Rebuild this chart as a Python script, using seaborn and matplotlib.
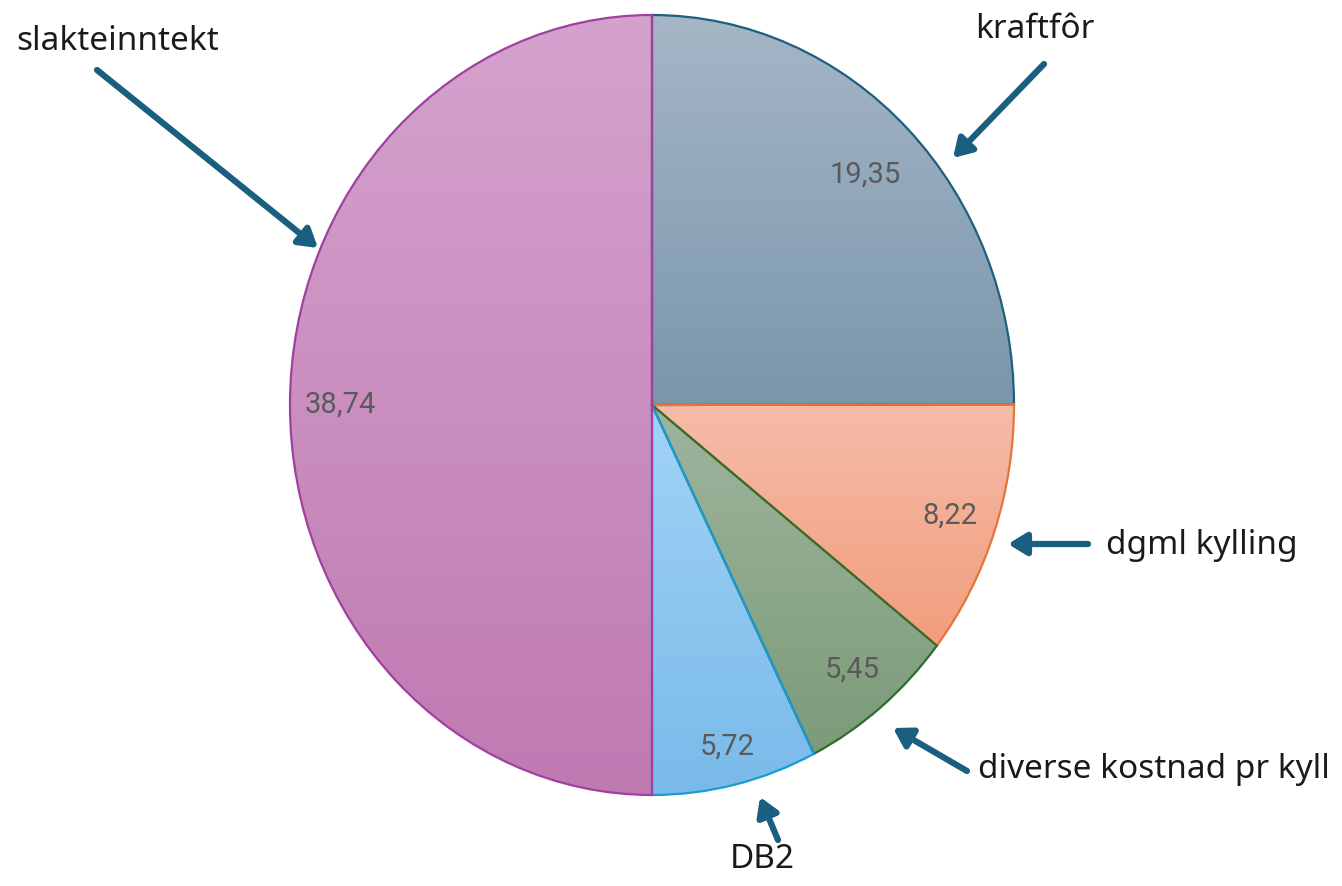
import numpy as np
import matplotlib.pyplot as plt
import seaborn as sns

# data
categories = ['kraftfôr', 'dgml kylling', 'diverse kostnad pr kyll', 'DB2', 'slakteinntekt']
values = [19.35, 8.22, 5.45, 5.72, 38.74]
# gradient colours (top, bottom) and edge colour per slice
grad_top = ['#a5b6c6', '#f5bca9', '#9fb59e', '#a2d3f5', '#d5a2cd']
grad_bottom = ['#7a96ac', '#f29d7c', '#7b9b79', '#79baea', '#bf7ab2']
edge_cols = ['#1d5f80', '#e8733a', '#2e6e2a', '#1a9ad6', '#a040a0']

sns.set_theme(style='white')
plt.rcParams['font.family'] = ['Roboto', 'DejaVu Sans']

fig = plt.figure(figsize=(13.42, 8.86), dpi=100)
ax = fig.add_axes([0, 0, 1, 1])

# pixel -> data helpers (pie centre at 652,405, radii 362 x 390 px)
def px(x):
    return (x - 652) / 362

def py(y):
    return (405 - y) / 390

wedges, _ = ax.pie(values, startangle=90, counterclock=False, radius=1,
                   wedgeprops=dict(linewidth=1.6))

for w, top, bot, ec in zip(wedges, grad_top, grad_bottom, edge_cols):
    w.set_edgecolor(ec)
    w.set_facecolor('none')
    w.set_zorder(3)
    verts = w.get_path().vertices
    y0, y1 = verts[:, 1].min(), verts[:, 1].max()
    x0, x1 = verts[:, 0].min(), verts[:, 0].max()
    cmap = sns.blend_palette([top, bot], n_colors=256, as_cmap=True)
    grad = np.linspace(0, 1, 256).reshape(-1, 1)
    im = ax.imshow(grad, cmap=cmap, extent=(x0, x1, y0, y1), aspect='auto',
                   origin='upper', zorder=2, interpolation='bilinear')
    im.set_clip_path(w)

# value labels inside the slices
total = sum(values)
angle = 90.0
label_r = [0.835, 0.87, 0.875, 0.90, 0.862]
for v, r in zip(values, label_r):
    theta = np.deg2rad(angle - v / total * 180)
    angle -= v / total * 360
    ax.text(r * np.cos(theta), r * np.sin(theta), f'{v:.2f}'.replace('.', ','),
            ha='center', va='center', fontsize=21, color='#5a5a5a', zorder=5)

ax.set_aspect('auto')
ax.set_xlim(px(0), px(1342))
ax.set_ylim(py(886), py(0))
ax.axis('off')

arrow_col = '#1a5f80'
arrow_kw = dict(arrowstyle='-|>,head_length=0.9,head_width=0.55', color=arrow_col,
                lw=4.5, shrinkA=0, shrinkB=0)
# (label, text x, text y, ha, arrow tail, arrow tip) in pixels
notes = [
    ('slakteinntekt', 118, 42, 'center', (97, 70), (318, 248)),
    ('kraftfôr', 1035, 30, 'center', (1044, 64), (953, 158)),
    ('dgml kylling', 1106, 545, 'left', (1088, 544), (1008, 544)),
    ('diverse kostnad pr kyll', 978, 770, 'left', (967, 771), (893, 728)),
    ('DB2', 762, 860, 'center', (778, 840), (760, 797)),
]
for text, tx, ty, ha, tail, tip in notes:
    ax.text(px(tx), py(ty), text, ha=ha, va='center', fontsize=24,
            color='#1a1a1a', family=['Noto Sans', 'DejaVu Sans'])
    ax.annotate('', xy=(px(tip[0]), py(tip[1])), xytext=(px(tail[0]), py(tail[1])),
                arrowprops=arrow_kw, zorder=6)

fig.savefig('out.png', dpi=100, facecolor='white')
